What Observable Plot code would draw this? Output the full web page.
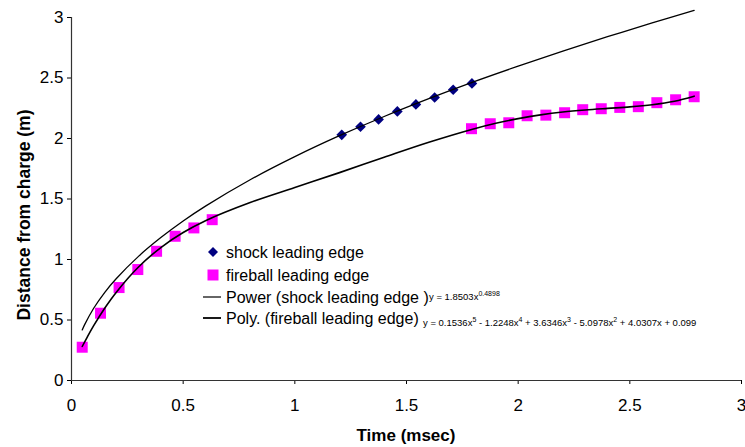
<!DOCTYPE html>
<html><head><meta charset="utf-8">
<script src="https://cdn.jsdelivr.net/npm/d3@7"></script>
<script src="https://cdn.jsdelivr.net/npm/@observablehq/plot@0.6"></script>
<style>body{margin:0;background:#fff} #chart{width:745px;height:447px}</style>
</head><body><div id="chart"></div>
<script>
// Data
const shockTime = [1.21, 1.294, 1.375, 1.459, 1.542, 1.626, 1.709, 1.793];
const shockDist = [2.03, 2.097, 2.158, 2.224, 2.282, 2.339, 2.403, 2.455];
const fireTime = [0.048, 0.13, 0.213, 0.297, 0.381, 0.464, 0.548, 0.63,
  1.791, 1.875, 1.958, 2.04, 2.124, 2.208, 2.289, 2.372, 2.455, 2.538, 2.621, 2.705, 2.788];
const fireDist = [0.275, 0.556, 0.768, 0.917, 1.068, 1.192, 1.261, 1.329,
  2.081, 2.122, 2.13, 2.188, 2.193, 2.213, 2.238, 2.246, 2.257, 2.263, 2.296, 2.32, 2.345];
// Trend lines, values
const powerTime = [0.048, 0.06, 0.1, 0.15, 0.2, 0.3, 0.4, 0.5, 0.6, 0.8, 1.0, 1.2, 1.4, 1.6, 1.8, 2.0, 2.2, 2.4, 2.6, 2.788];
const powerDist = [0.418, 0.466, 0.599, 0.731, 0.841, 1.026, 1.181, 1.318, 1.441, 1.659, 1.85, 2.023, 2.182, 2.329, 2.468, 2.598, 2.723, 2.841, 2.955, 3.058];
const polyTime = [0.048, 0.07, 0.1, 0.15, 0.2, 0.3, 0.4, 0.5, 0.6, 0.8, 1.0, 1.2, 1.4, 1.6, 1.8, 1.9, 2.0, 2.1, 2.2, 2.3, 2.4, 2.5, 2.6, 2.7, 2.788];
const polyDist = [0.281, 0.357, 0.455, 0.601, 0.728, 0.938, 1.099, 1.223, 1.321, 1.471, 1.595, 1.718, 1.845, 1.969, 2.079, 2.126, 2.164, 2.195, 2.219, 2.236, 2.249, 2.261, 2.279, 2.308, 2.35];
const xTicks = [0, 0.5, 1, 1.5, 2, 2.5, 3];
const yTicks = [0, 0.5, 1, 1.5, 2, 2.5, 3];
const seriesNames = ["shock leading edge", "fireball leading edge", "Power (shock leading edge )", "Poly. (fireball leading edge)"];
const xTitle = "Time (msec)";
const yTitle = "Distance from charge (m)";

const shock = shockTime.map((t, i) => ({t, d: shockDist[i]}));
const fire = fireTime.map((t, i) => ({t, d: fireDist[i]}));
const power = powerTime.map((t, i) => ({t, d: powerDist[i]}));
const poly = polyTime.map((t, i) => ({t, d: polyDist[i]}));

const FONT = "'Liberation Sans', Arial, sans-serif";
const svg = Plot.plot({
  width: 745, height: 447,
  marginLeft: 71, marginRight: 4, marginTop: 17, marginBottom: 67,
  style: {fontFamily: FONT, fontSize: "17px", color: "#000", background: "#fff"},
  x: {domain: [0, 3]},
  y: {domain: [0, 3]},
  marks: [
    Plot.axisX({ticks: xTicks, tickFormat: d => String(d), tickSize: 4, tickPadding: 14, label: null, stroke: "#000"}),
    Plot.axisY({ticks: yTicks, tickFormat: d => String(d), tickSize: 4, tickPadding: 4, label: null, stroke: "#000"}),
    Plot.ruleY([0], {stroke: "#333", strokeWidth: 1.2}),
    Plot.ruleX([0], {stroke: "#333", strokeWidth: 1.2}),
    Plot.dot(fire, {x: "t", y: "d", symbol: "square", r: 6.2, fill: "#ff00ff", stroke: "none"}),
    Plot.dot(shock, {x: "t", y: "d", symbol: "diamond2", r: 4.8, fill: "#000080", stroke: "none"}),
    Plot.line(power, {x: "t", y: "d", curve: "catmull-rom", stroke: "#000", strokeWidth: 1.3}),
    Plot.line(poly, {x: "t", y: "d", curve: "catmull-rom", stroke: "#000", strokeWidth: 1.6})
  ]
});
document.getElementById("chart").appendChild(svg);

const s = d3.select(svg);
s.append("text").attr("transform", "translate(30,215) rotate(-90)")
  .attr("text-anchor", "middle").attr("font-weight", "bold").attr("font-size", 17.5)
  .attr("font-family", FONT).text(yTitle);
s.append("text").attr("x", 406).attr("y", 441)
  .attr("text-anchor", "middle").attr("font-weight", "bold").attr("font-size", 17)
  .attr("font-family", FONT).text(xTitle);

// Legend
const lg = s.append("g").attr("font-family", FONT).attr("font-size", 16).attr("text-anchor", "start");
lg.append("path").attr("d", d3.symbol(d3.symbolDiamond2, 64)()).attr("transform", "translate(213,252)").attr("fill", "#000080");
lg.append("rect").attr("x", 207.5).attr("y", 269.5).attr("width", 11).attr("height", 11).attr("fill", "#ff00ff");
lg.append("line").attr("x1", 203).attr("x2", 221).attr("y1", 297).attr("y2", 297).attr("stroke", "#000").attr("stroke-width", 1.2);
lg.append("line").attr("x1", 203).attr("x2", 221).attr("y1", 318).attr("y2", 318).attr("stroke", "#000").attr("stroke-width", 1.8);
const rowsY = [252, 275, 297, 318];
seriesNames.forEach((n, i) => {
  lg.append("text").attr("x", 226).attr("y", rowsY[i]).attr("dy", "0.35em").text(n);
});
// Trendline equations
const eq = s.append("g").attr("font-family", FONT).attr("font-size", 9.5).attr("text-anchor", "start");
const eq1 = eq.append("text").attr("x", 429).attr("y", 300);
eq1.append("tspan").text("y = 1.8503x");
eq1.append("tspan").attr("font-size", 7).attr("dy", -4).text("0.4898");
const eq2 = eq.append("text").attr("x", 423).attr("y", 322);
const parts = [["y = 0.1536x", "5"], [" - 1.2248x", "4"], [" + 3.6346x", "3"], [" - 5.0978x", "2"], [" + 4.0307x + 0.099", null]];
parts.forEach(([b, e]) => {
  eq2.append("tspan").attr("font-size", 9.5).attr("dy", eq2.node().childNodes.length ? 4 : 0).text(b);
  if (e) eq2.append("tspan").attr("font-size", 7).attr("dy", -4).text(e);
});
</script></body></html>
